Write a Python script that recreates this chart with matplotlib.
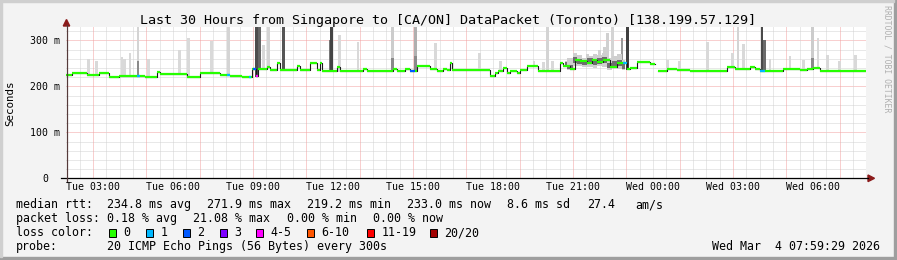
import numpy as np
import matplotlib.pyplot as plt
from matplotlib.patches import Rectangle, Polygon
from matplotlib.lines import Line2D

# median rtt as steps: hours since graph start (Tue 01:59:29) -> ms
med_t = [0.0, 0.22, 0.79, 1.24, 1.61, 1.99, 2.96, 3.41, 3.52, 4.54, 5.02, 5.77, 6.15, 6.60,
         6.97, 7.12, 7.20, 7.54, 7.65, 7.91, 8.02, 8.66, 8.77, 9.15, 9.41, 9.52, 9.60,
         10.16, 10.27, 11.14, 11.29, 12.26, 12.41, 12.71, 12.90, 13.16, 13.65, 13.91,
         14.14, 14.29, 14.40, 14.47, 15.26, 15.90, 16.09, 16.20, 16.39, 16.54, 16.65,
         16.91, 17.02, 17.29, 17.70, 18.52, 18.64, 18.90, 19.09, 19.27, 19.54, 19.72,
         19.91, 20.14, 20.40, 20.66, 20.89, 21.04, 21.15, 21.41, 21.90, 22.09, 22.20,
         22.54, 22.91, 23.40, 24.79, 25.09, 25.65, 25.84, 26.02, 26.89, 27.52, 27.79,
         28.01, 28.27]
med_v = [225, 228, 225, 230, 221, 223, 221, 232, 227, 221, 230, 225, 223, 220,
         237, 222, 237, 243, 235, 250, 235, 245, 235, 251, 235, 250, 234,
         242, 234, 238, 234, 238, 234, 238, 234, 245, 237, 234,
         238, 235, 250, 236, 235, 222, 230, 234, 239, 229, 234,
         228, 236, 244, 234, 250, 244, 237, 258, 254, 250, 257,
         252, 258, 243, 250, 251, 237, 239, 253, 249, np.nan, 234,
         238, 235, 233, 243, 237, 243, 237, 233, 238, 235, 238,
         239, 233]

# periods with lost pings (start h, end h, pings lost out of 20)
loss_t0 = [2.66, 6.04, 6.86, 7.01, 7.12, 12.90, 20.89, 26.02]
loss_t1 = [2.78, 6.15, 6.94, 7.12, 7.20, 13.09, 21.04, 26.21]
loss_n = [1, 1, 1, 2, 4, 2, 1, 1]

# smoke spikes: time (h), top (ms), gray, top of darker core (0 = none)
spike_t = [0.86, 1.16, 2.10, 2.21, 2.40, 2.70, 3.11, 4.27, 4.61, 5.47, 6.11, 7.16, 7.24,
           7.39, 7.61, 8.14, 9.90, 9.97, 10.27, 10.95, 12.26, 13.09, 13.84, 15.49, 16.31,
           17.55, 17.89, 18.04, 18.26, 19.57, 20.02, 20.21, 20.32, 20.51, 20.85, 21.04,
           22.54, 23.02, 24.04, 25.01, 25.20, 25.39, 26.10, 26.21, 26.40, 27.15, 27.64,
           28.01, 28.20, 28.54, 29.02, 29.59]
spike_top = [259, 255, 264, 260, 272, 330, 259, 279, 304, 299, 330, 330, 330,
             290, 330, 330, 300, 330, 311, 296, 330, 330, 295, 273, 254,
             254, 252, 330, 254, 270, 280, 285, 316, 330, 305, 330,
             258, 255, 297, 272, 330, 293, 330, 300, 260, 266, 257,
             330, 305, 267, 255, 267]
spike_gray = ['#d9d9d9', '#d9d9d9', '#d9d9d9', '#d9d9d9', '#d9d9d9', '#d4d4d4', '#d9d9d9',
              '#d9d9d9', '#d9d9d9', '#d9d9d9', '#d4d4d4', '#4d4d4d', '#666666',
              '#d9d9d9', '#d4d4d4', '#555555', '#777777', '#444444', '#d9d9d9', '#d9d9d9',
              '#cccccc', '#b0b0b0', '#d9d9d9', '#d9d9d9', '#d9d9d9',
              '#d9d9d9', '#d9d9d9', '#d4d4d4', '#d9d9d9', '#d0d0d0', '#d0d0d0', '#d0d0d0',
              '#d0d0d0', '#d4d4d4', '#999999', '#404040',
              '#d9d9d9', '#d9d9d9', '#d9d9d9', '#d9d9d9', '#d4d4d4', '#d9d9d9', '#4a4a4a',
              '#6a6a6a', '#d9d9d9', '#d9d9d9', '#d9d9d9',
              '#cccccc', '#d9d9d9', '#d9d9d9', '#d9d9d9', '#d9d9d9']
spike_core = [0, 0, 0, 0, 0, 255, 0, 0, 0, 0, 0, 0, 0,
              0, 0, 0, 0, 0, 0, 0, 262, 265, 0, 0, 0,
              0, 0, 0, 0, 0, 0, 0, 0, 0, 0, 0,
              0, 0, 0, 0, 0, 0, 0, 0, 0, 0, 0,
              262, 0, 0, 0, 0]

# busy smoke around 21:00
band_t = [18.71, 18.90, 19.09, 19.27, 19.46, 19.65, 19.84, 20.02, 20.21, 20.40, 20.58, 20.77, 20.96]
band_lo = [242, 236, 245, 244, 242, 243, 240, 244, 243, 236, 240, 238, 236]
band_hi = [256, 262, 272, 268, 262, 266, 270, 268, 272, 262, 266, 270, 258]
core_lo = [244, 237, 250, 248, 246, 248, 246, 249, 250, 239, 245, 244, 238]
core_hi = [252, 246, 264, 260, 255, 262, 260, 262, 264, 250, 256, 258, 250]

x_labels = ['Tue 03:00', 'Tue 06:00', 'Tue 09:00', 'Tue 12:00', 'Tue 15:00',
            'Tue 18:00', 'Tue 21:00', 'Wed 00:00', 'Wed 03:00', 'Wed 06:00']
first_label_h = 1.0086
y_ticks = [0, 100, 200, 300]
y_labels = ['0', '100 m', '200 m', '300 m']

loss_names = ['0', '1', '2', '3', '4-5', '6-10', '11-19', '20/20']
loss_colors = ['#26ff00', '#00b8ff', '#0059ff', '#7e00ff', '#ff00ff', '#ff5500', '#ff0000', '#a10000']
loss_upper = [0, 1, 2, 3, 5, 10, 19, 20]

title = 'Last 30 Hours from Singapore to [CA/ON] DataPacket (Toronto) [138.199.57.129]'

W, H = 897, 260
fig = plt.figure(figsize=(W / 100, H / 100), dpi=100, facecolor='#f3f3f3')


def fx(x):
    return x / W


def fy(y):
    return 1 - y / H


def ftext(x, y, s, **kw):
    fig.text(fx(x), fy(y), s, family='DejaVu Sans Mono', **kw)


# frame
fig.patches.append(Rectangle((0, 0), 1, fy(257), transform=fig.transFigure, color='#9e9e9e'))
fig.patches.append(Rectangle((fx(894), 0), 1, 1, transform=fig.transFigure, color='#9e9e9e'))
fig.patches.append(Rectangle((0, fy(2)), fx(894), 1, transform=fig.transFigure, color='#cfcfcf'))
fig.patches.append(Rectangle((0, fy(257)), fx(2), 1, transform=fig.transFigure, color='#cfcfcf'))

X0, X1, Y0, Y1 = 66, 866, 178.3, 27
ax = fig.add_axes([fx(X0), fy(Y0), (X1 - X0) / W, (Y0 - Y1) / H])
ax.set_xlim(0, 30)
ax.set_ylim(0, (Y0 - Y1) / 0.46)
ax.set_facecolor('white')
for s in ax.spines.values():
    s.set_visible(False)
ax.set_xticks([])
ax.set_yticks([])

# grid
dot = (0, (1, 1))
for v in range(20, 330, 20):
    c = '#f2a0a0' if v % 100 == 0 else '#d2d2d2'
    ax.axhline(v, color=c, lw=0.72, ls=dot, zorder=1)
h = first_label_h - 0.5
while h < 30:
    major = abs(((h - first_label_h) / 2) - round((h - first_label_h) / 2)) < 1e-6
    ax.axvline(h, color='#f2a0a0' if major else '#d2d2d2', lw=0.72, ls=dot, zorder=1)
    h += 0.5

med_t_a = np.array(med_t)
med_v_a = np.array(med_v, dtype=float)
med_end = np.append(med_t_a[1:], 30.0)


def med_at(t):
    return med_v_a[np.searchsorted(med_t_a, t, side='right') - 1]


# smoke
bottoms = np.array([med_at(t) for t in spike_t]) - 2
ax.bar(spike_t, np.array(spike_top) - bottoms, bottom=bottoms, width=0.11,
       color=spike_gray, lw=0, zorder=2)
for t, c, b in zip(spike_t, spike_core, bottoms):
    if c:
        ax.bar(t, c - b, bottom=b, width=0.11, color='#8a8a8a', lw=0, zorder=2)
ax.fill_between(band_t, band_lo, band_hi, step='mid', color='#cfcfcf', lw=0, zorder=2)
ax.fill_between(band_t, core_lo, core_hi, step='mid', color='#6e6e6e', lw=0, zorder=2)

# median line
ax.step(np.append(med_t_a, 30.0), np.append(med_v_a, med_v_a[-1]), where='post',
        color='#1a1a1a', lw=0.8, zorder=3)
ax.hlines(med_v_a, med_t_a, med_end, color=loss_colors[0], lw=1.6, zorder=4)
for t0, t1, n in zip(loss_t0, loss_t1, loss_n):
    col = loss_colors[int(np.searchsorted(loss_upper, n))]
    ax.hlines(med_at(t0 + 1e-3), t0, t1, color=col, lw=1.6, zorder=5)

# axes with arrows
fig.lines.append(Line2D([fx(61), fx(868)], [fy(Y0)] * 2, transform=fig.transFigure,
                        color='black', lw=0.9))
fig.lines.append(Line2D([fx(66.5)] * 2, [fy(182), fy(25)], transform=fig.transFigure,
                        color='#553a3a', lw=0.9))
fig.patches.append(Polygon([(fx(63.3), fy(26)), (fx(69.7), fy(26)), (fx(66.5), fy(19.5))],
                           transform=fig.transFigure, color='#8b1a1a'))
fig.patches.append(Polygon([(fx(868), fy(Y0 - 3.3)), (fx(868), fy(Y0 + 3.3)), (fx(874.5), fy(Y0))],
                           transform=fig.transFigure, color='#8b1a1a'))

# labels
ftext(448, 24, title, ha='center', va='baseline', fontsize=9.6)
ftext(10, 103, 'Seconds', rotation=90, ha='center', va='center', fontsize=7.8)
for v, s in zip(y_ticks, y_labels):
    ftext(48 if v == 0 else 60, Y0 - v * 0.46 + 3.6, s, ha='right', va='baseline', fontsize=7.1)
for k, s in enumerate(x_labels):
    ftext(X0 + (first_label_h + 3 * k) * 800 / 30, 190.5, s, ha='center', va='baseline', fontsize=7.1)
ftext(887, 5, 'RRDTOOL / TOBI OETIKER', rotation=270, ha='center', va='top',
      fontsize=5.9, color='#b0b0b0')

# legend
fs = 8.4
row1 = [(16, 'median rtt:'), (107, '234.8 ms avg'), (207, '271.9 ms max'), (307, '219.2 ms min'),
        (407, '233.0 ms now'), (507, '8.6 ms sd'), (587, '27.4'), (635, 'am/s')]
row2 = [(16, 'packet loss:'), (107, '0.18 % avg'), (193, '21.08 % max'), (286.5, '0.00 % min'),
        (372.5, '0.00 % now')]
for x, s in row1:
    ftext(x, 208.3, s, ha='left', va='baseline', fontsize=fs)
for x, s in row2:
    ftext(x, 222, s, ha='left', va='baseline', fontsize=fs)
ftext(16, 236, 'loss color:', ha='left', va='baseline', fontsize=fs)
box_x = [108.7, 146, 183, 219.5, 256, 307, 367, 430]
for bx, name, col in zip(box_x, loss_names, loss_colors):
    fig.patches.append(Rectangle((fx(bx), fy(236.5)), 7.3 / W, 7.3 / H, transform=fig.transFigure,
                                 facecolor=col, edgecolor='black', lw=0.7))
    ftext(bx + 14.5, 236, name, ha='left', va='baseline', fontsize=fs)
ftext(16, 250, 'probe:', ha='left', va='baseline', fontsize=fs)
ftext(107, 250, '20 ICMP Echo Pings (56 Bytes) every 300s', ha='left', va='baseline', fontsize=fs)
ftext(880, 250, 'Wed Mar  4 07:59:29 2026', ha='right', va='baseline', fontsize=fs)

fig.savefig('out.png', dpi=100, facecolor=fig.get_facecolor())
